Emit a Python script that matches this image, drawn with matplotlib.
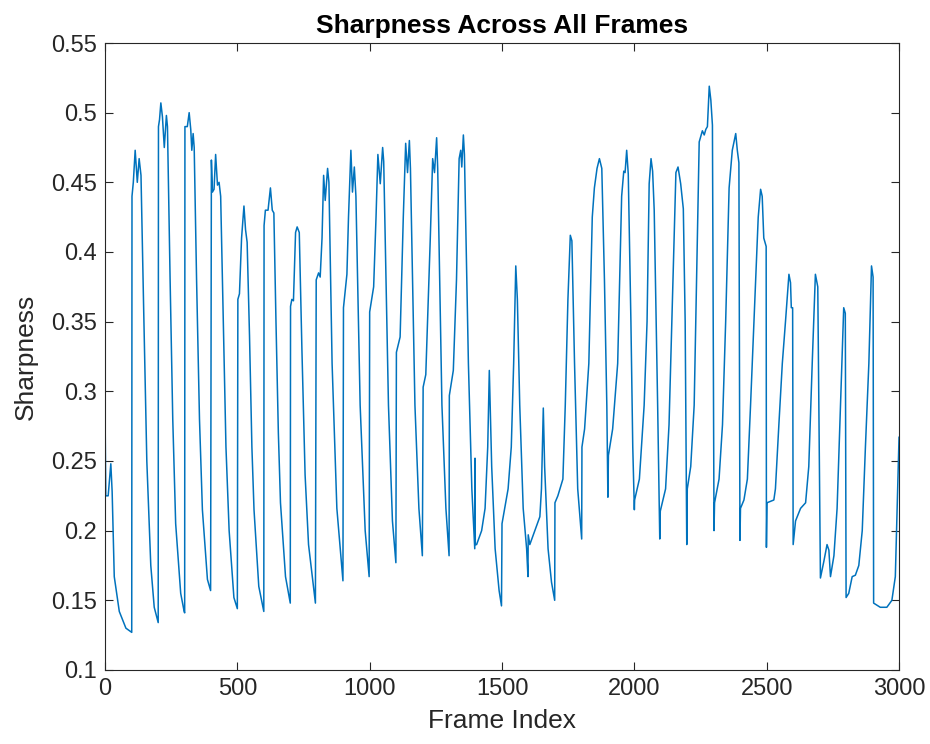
import matplotlib
matplotlib.use("Agg")
import matplotlib.pyplot as plt
import numpy as np

plt.rcParams['font.family'] = ['Liberation Sans', 'DejaVu Sans']

# key points (frame index, sharpness)
frames = [0, 3, 12, 22, 27, 35, 54, 79, 101,
          102, 107, 114, 122, 129, 133, 136, 146, 158, 173, 186, 198, 201,
          202, 206, 211, 217, 224, 232, 236, 246, 256, 267, 286, 299, 301,
          302, 311, 318, 324, 328, 333, 337, 346, 357, 368, 387, 399,
          402, 406, 412, 418, 425, 431, 437, 446, 457, 469, 487, 500,
          502, 508, 516, 525, 531, 537, 546, 555, 563, 581, 600,
          601, 606, 616, 625, 632, 638, 646, 655, 663, 682, 700,
          701, 706, 712, 720, 726, 734, 744, 756, 769, 795,
          798, 807, 813, 820, 826, 832, 841, 846, 858, 876, 899,
          901, 914, 920, 929, 935, 942, 948, 964, 983, 998,
          1000, 1015, 1024, 1031, 1040, 1049, 1053, 1071, 1086, 1099,
          1101, 1115, 1127, 1136, 1143, 1150, 1154, 1171, 1186, 1199,
          1202, 1212, 1229, 1238, 1245, 1253, 1257, 1273, 1288, 1300,
          1301, 1316, 1328, 1338, 1344, 1348, 1354, 1358, 1373, 1386, 1397,
          1398, 1399, 1404, 1423, 1436, 1446, 1452, 1461, 1474, 1489, 1498,
          1500, 1510, 1523, 1535, 1544, 1552, 1558, 1567, 1580, 1593, 1598,
          1599, 1605, 1624, 1643, 1649, 1656, 1661, 1674, 1687, 1699,
          1700, 1711, 1730, 1739, 1749, 1758, 1764, 1774, 1786, 1801,
          1802, 1812, 1828, 1841, 1849, 1859, 1868, 1877, 1887, 1896, 1900,
          1902, 1918, 1937, 1952, 1960, 1965, 1971, 1977, 1987, 1994, 2000,
          2001, 2019, 2037, 2048, 2056, 2063, 2069, 2075, 2088, 2096,
          2098, 2118, 2131, 2144, 2157, 2165, 2175, 2185, 2192, 2198,
          2200, 2213, 2226, 2238, 2245, 2257, 2264, 2270, 2276, 2283, 2289, 2295, 2301,
          2303, 2320, 2333, 2345, 2358, 2370, 2383, 2389, 2395, 2399,
          2401, 2414, 2427, 2439, 2452, 2468, 2477, 2483, 2489, 2498, 2499,
          2501, 2527, 2533, 2546, 2559, 2571, 2584, 2590, 2593, 2598, 2600,
          2609, 2628, 2647, 2659, 2672, 2684, 2693, 2700, 2703,
          2716, 2728, 2735, 2741, 2754, 2766, 2779, 2791, 2797, 2800,
          2810, 2823, 2835, 2848, 2861, 2873, 2886, 2896, 2902, 2904,
          2929, 2954, 2973, 2986, 2995, 3000]
sharpness = [0.288, 0.225, 0.225, 0.248, 0.228, 0.167, 0.142, 0.130, 0.127,
             0.44, 0.45, 0.473, 0.45, 0.467, 0.46, 0.455, 0.36, 0.25, 0.175, 0.145, 0.136, 0.134,
             0.49, 0.495, 0.507, 0.497, 0.475, 0.498, 0.49, 0.38, 0.28, 0.205, 0.155, 0.142, 0.141,
             0.49, 0.49, 0.50, 0.488, 0.473, 0.485, 0.475, 0.38, 0.28, 0.215, 0.165, 0.157,
             0.466, 0.443, 0.445, 0.47, 0.448, 0.45, 0.44, 0.36, 0.26, 0.2, 0.152, 0.144,
             0.366, 0.37, 0.41, 0.433, 0.416, 0.407, 0.34, 0.26, 0.215, 0.16, 0.142,
             0.419, 0.43, 0.43, 0.446, 0.43, 0.428, 0.35, 0.27, 0.22, 0.167, 0.148,
             0.361, 0.366, 0.365, 0.414, 0.418, 0.414, 0.33, 0.24, 0.19, 0.148,
             0.38, 0.385, 0.382, 0.41, 0.455, 0.437, 0.46, 0.45, 0.32, 0.216, 0.164,
             0.36, 0.384, 0.425, 0.473, 0.443, 0.461, 0.44, 0.29, 0.20, 0.167,
             0.357, 0.375, 0.425, 0.47, 0.449, 0.475, 0.465, 0.29, 0.207, 0.177,
             0.328, 0.339, 0.425, 0.478, 0.457, 0.48, 0.46, 0.29, 0.216, 0.182,
             0.303, 0.312, 0.41, 0.467, 0.457, 0.482, 0.46, 0.29, 0.216, 0.182,
             0.297, 0.315, 0.38, 0.467, 0.473, 0.461, 0.484, 0.47, 0.32, 0.23, 0.187,
             0.252, 0.19, 0.19, 0.20, 0.216, 0.26, 0.315, 0.246, 0.187, 0.157, 0.146,
             0.205, 0.216, 0.23, 0.26, 0.32, 0.39, 0.366, 0.29, 0.216, 0.187, 0.167,
             0.197, 0.19, 0.20, 0.21, 0.23, 0.288, 0.246, 0.187, 0.163, 0.15,
             0.22, 0.225, 0.237, 0.29, 0.366, 0.412, 0.408, 0.32, 0.23, 0.194,
             0.26, 0.273, 0.32, 0.425, 0.446, 0.46, 0.467, 0.46, 0.38, 0.29, 0.224,
             0.254, 0.273, 0.32, 0.44, 0.458, 0.457, 0.473, 0.456, 0.35, 0.26, 0.215,
             0.222, 0.237, 0.29, 0.35, 0.449, 0.467, 0.458, 0.43, 0.29, 0.194,
             0.214, 0.23, 0.276, 0.366, 0.457, 0.461, 0.449, 0.431, 0.35, 0.19,
             0.23, 0.246, 0.29, 0.41, 0.479, 0.487, 0.484, 0.488, 0.49, 0.519, 0.509, 0.491, 0.20,
             0.22, 0.237, 0.276, 0.35, 0.446, 0.473, 0.485, 0.473, 0.464, 0.193,
             0.216, 0.222, 0.237, 0.29, 0.35, 0.425, 0.445, 0.44, 0.41, 0.404, 0.188,
             0.22, 0.222, 0.23, 0.276, 0.32, 0.35, 0.384, 0.378, 0.36, 0.36, 0.19,
             0.207, 0.216, 0.22, 0.246, 0.32, 0.384, 0.375, 0.23, 0.166,
             0.178, 0.19, 0.186, 0.167, 0.182, 0.216, 0.29, 0.36, 0.356, 0.152,
             0.155, 0.167, 0.168, 0.175, 0.20, 0.26, 0.32, 0.39, 0.382, 0.148,
             0.145, 0.145, 0.15, 0.167, 0.23, 0.267]

x_ticks = [0, 500, 1000, 1500, 2000, 2500, 3000]
y_ticks = [0.1, 0.15, 0.2, 0.25, 0.3, 0.35, 0.4, 0.45, 0.5, 0.55]
y_tick_labels = ['0.1', '0.15', '0.2', '0.25', '0.3', '0.35', '0.4', '0.45', '0.5', '0.55']

fig = plt.figure(figsize=(9.3, 7.44), dpi=100)
ax = fig.add_axes([0.1129, 0.0995, 0.8538, 0.8427])

ax.plot(frames, sharpness, color='#0072BD', linewidth=1.1)

ax.set_xlim(0, 3000)
ax.set_ylim(0.1, 0.55)
ax.set_xticks(x_ticks)
ax.set_yticks(y_ticks)
ax.set_yticklabels(y_tick_labels)

text_color = '#262626'
for s in ax.spines.values():
    s.set_color('#262626')
    s.set_linewidth(0.8)
ax.tick_params(direction='in', top=True, right=True, length=6, width=0.8,
               colors=text_color, labelsize=17, pad=6)

ax.set_title('Sharpness Across All Frames', fontsize=19, fontweight='bold', color='black', pad=7)
ax.set_xlabel('Frame Index', fontsize=19, color=text_color, labelpad=6)
ax.set_ylabel('Sharpness', fontsize=19, color=text_color, labelpad=9)

fig.savefig('out.png', dpi=100)
